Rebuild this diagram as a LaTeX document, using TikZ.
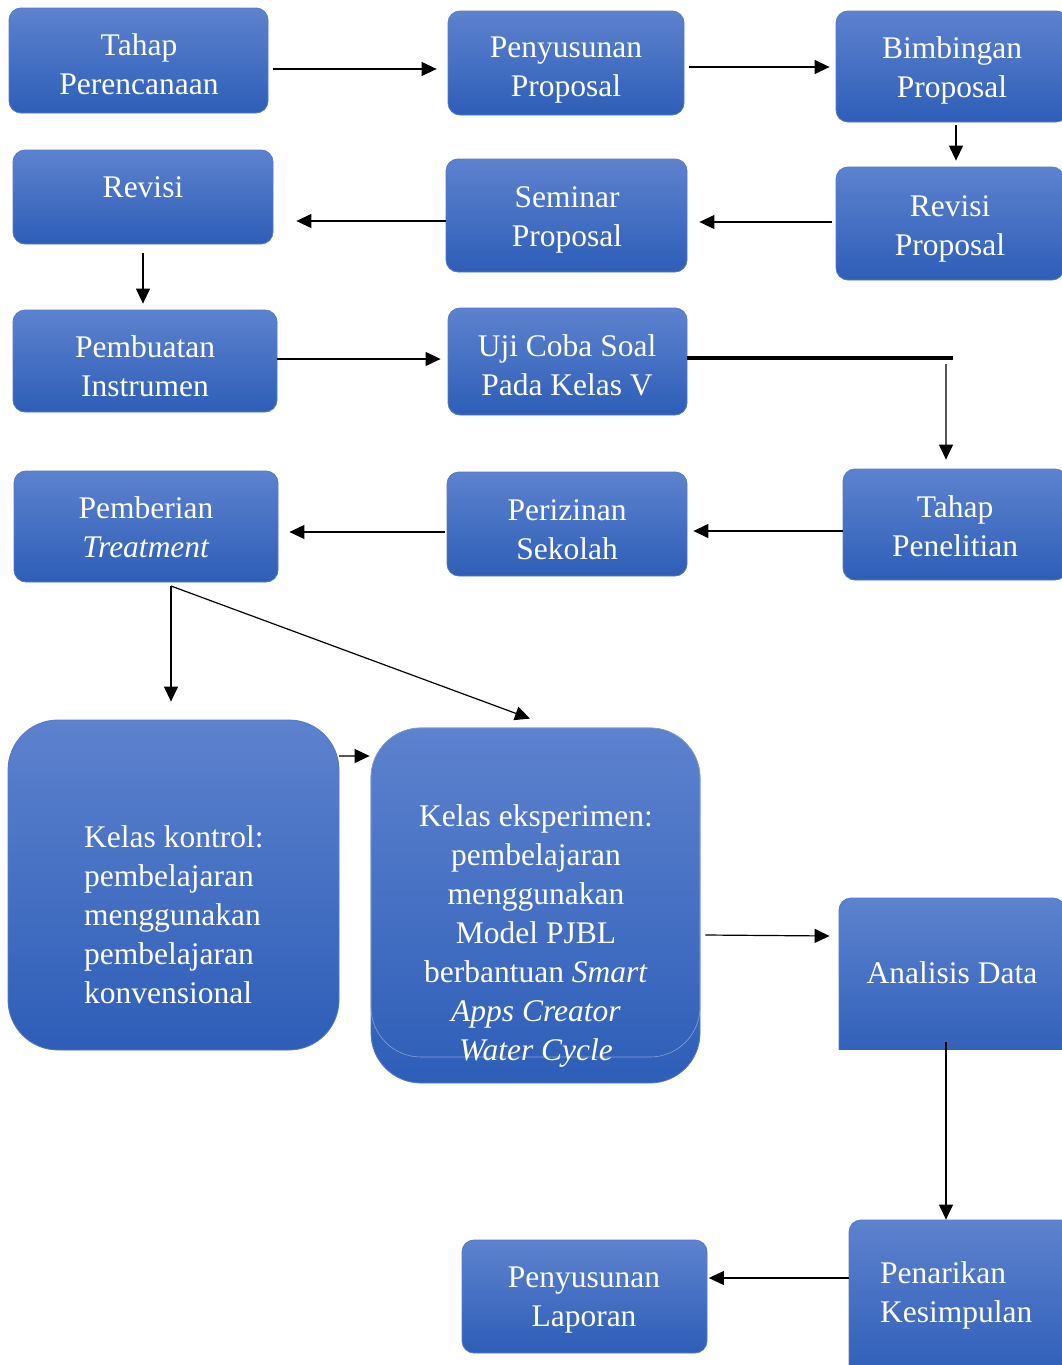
\documentclass[tikz,border=0pt]{standalone}
\usepackage{fontspec}
\setmainfont{Liberation Serif}
\usetikzlibrary{arrows.meta,calc}
\definecolor{boxtop}{RGB}{93,130,206}
\definecolor{boxbot}{RGB}{46,94,184}
\definecolor{boxedge}{RGB}{85,120,200}
\definecolor{greyline}{RGB}{85,85,85}
\tikzset{
  bx/.style={rectangle, rounded corners=12pt, top color=boxtop, bottom color=boxbot,
    draw=boxedge, line width=0.8pt, inner sep=0pt},
  bigbx/.style={bx, rounded corners=50pt},
  lbl/.style={text=white, align=center, inner sep=0pt,
    font=\fontsize{31.5}{39}\selectfont},
  arr/.style={line width=1.2pt, -{Triangle[length=15pt,width=14pt]}},
  garr/.style={line width=1.2pt, draw=greyline, -{Triangle[length=15pt,width=14pt,color=black,fill=black]}}
}
\begin{document}
\begin{tikzpicture}[x=1pt,y=-1pt]
\useasboundingbox (0,0) rectangle (1061,1365);
\fill[white] (0,0) rectangle (1061,1365);

% boxes
\node[bx, minimum width=259pt, minimum height=105pt] (n1) at (138.5,60.5) {};
\node[bx, minimum width=236pt, minimum height=104pt] (n2) at (566,63) {};
\node[bx, minimum width=232pt, minimum height=111pt] (n3) at (952,66.5) {};
\node[bx, minimum width=260pt, minimum height=94pt] (n4) at (143,197) {};
\node[bx, minimum width=241pt, minimum height=113pt] (n5) at (566.5,215.5) {};
\node[bx, minimum width=228pt, minimum height=113pt] (n6) at (950,223.5) {};
\node[bx, minimum width=264pt, minimum height=102pt] (n7) at (145,361) {};
\node[bx, minimum width=239pt, minimum height=107pt] (n8) at (567.5,361.5) {};
\node[bx, minimum width=264pt, minimum height=111pt] (n9) at (146,526.5) {};
\node[bx, minimum width=240pt, minimum height=104pt] (n10) at (567,524) {};
\node[bx, minimum width=224pt, minimum height=111pt] (n11) at (955,524.5) {};
\node[bigbx, minimum width=331pt, minimum height=330pt] (n12) at (173.5,885) {};
\node[bigbx, minimum width=329pt, minimum height=355pt] (n13) at (535.5,905.5) {};
\draw[boxedge!70!white, line width=0.6pt, rounded corners=50pt] (371,728) rectangle (700,1057);
\begin{scope}
  \clip (800,880) rectangle (1100,1049);
  \node[bx, minimum width=226pt, minimum height=167pt] (n14) at (952,981.5) {};
\end{scope}
\node[bx, minimum width=226pt, minimum height=160pt] (n15) at (962,1300) {};
\node[bx, minimum width=245pt, minimum height=113pt] (n16) at (584.5,1296.5) {};

% labels
\node[lbl] (t1) at (139,64) {Tahap\\Perencanaan};
\node[lbl] (t2) at (566,70.5) {Penyusunan\\Proposal};
\node[lbl] (t3) at (952,70.5) {Bimbingan\\Proposal};
\node[lbl] (t4) at (143,187) {Revisi};
\node[lbl] (t5) at (567,219.5) {Seminar\\Proposal};
\node[lbl] (t6) at (950,228.5) {Revisi\\Proposal};
\node[lbl] (t7) at (145,366) {Pembuatan\\Instrumen};
\node[lbl] (t8) at (567,365) {Uji Coba Soal\\Pada Kelas V};
\node[lbl] (t9) at (146,527) {Pemberian\\\textit{Treatment}};
\node[lbl] (t10) at (567,530) {Perizinan\\Sekolah};
\node[lbl] (t11) at (955,526) {Tahap\\Penelitian};
\node[lbl, align=left, anchor=west] (t12) at (84,915) {Kelas kontrol:\\pembelajaran\\menggunakan\\pembelajaran\\konvensional};
\node[lbl] (t13) at (536,936) {Kelas eksperimen:\\pembelajaran\\menggunakan\\Model PJBL\\berbantuan \textit{Smart}\\\textit{Apps Creator}\\\textit{Water Cycle}};
\node[lbl] (t14) at (952,973) {Analisis Data};
\node[lbl, align=left, anchor=west] (t15) at (880,1295) {Penarikan\\Kesimpulan};
\node[lbl] (t16) at (584,1300) {Penyusunan\\Laporan};

% connectors
\draw[arr] ($(n1.east)+(5,8.5)$) -- ($(n2.west)+(-11,6)$);
\draw[arr] ($(n2.east)+(5,4)$) -- ($(n3.west)+(-6,0.5)$);
\draw[arr] ($(n3.south)+(4,3)$) -- ($(n6.north)+(6,-6)$);
\draw[arr] ($(n6.west)+(-4,-1.5)$) -- ($(n5.east)+(12,6.5)$);
\draw[arr] ($(n5.west)+(0,5.5)$) -- ($(n4.east)+(23,24)$);
\draw[arr] ($(n4.south)+(0,9)$) -- ($(n7.north)+(-2,-6)$);
\draw[arr] ($(n7.east)+(0,-2)$) -- ($(n8.west)+(-7,-2.5)$);
\coordinate (u1) at (953,358);
\draw[line width=4pt] ($(n8.east)+(0,-3.5)$) -- (u1);
\coordinate (u2) at (946,364);
\draw[garr] (u2) -- ($(n11.north)+(-9,-9)$);
\draw[arr] ($(n11.west)+(0,6.5)$) -- ($(n10.east)+(6,7)$);
\draw[arr] ($(n10.west)+(-2,8)$) -- ($(n9.east)+(11,5.5)$);
\coordinate (s1) at (171,586);
\draw[arr] (s1) -- ($(n12.north)+(-2.5,-18)$);
\draw[arr] (s1) -- ($(n13.north)+(-5.5,-9)$);
\draw[garr] ($(n12.east)+(0,-129)$) -- ($(n13.west)+(-1,-149.5)$);
\draw[arr] ($(n13.east)+(5,29.5)$) -- ($(n14.west)+(-9,-45.5)$);
\draw[arr] ($(n14.south)+(-6,-23)$) -- ($(n15.north)+(-16,0)$);
\draw[arr] ($(n15.west)+(0,-22)$) -- ($(n16.east)+(1.5,-18.5)$);
\end{tikzpicture}
\end{document}
